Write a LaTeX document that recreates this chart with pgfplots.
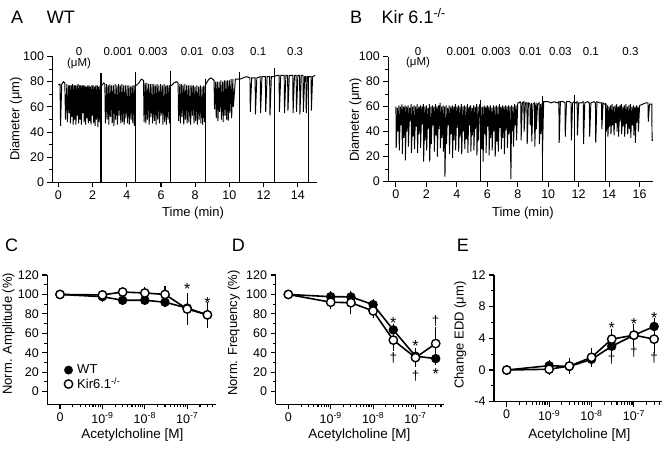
\documentclass[border=0pt]{standalone}
\usepackage{fontspec}
\setmainfont{Liberation Sans}
\usepackage{pgfplots}
\pgfplotsset{compat=1.18}
\pgfplotsset{
  base/.style={
    scale only axis,
    axis x line*=bottom,
    axis y line*=left,
    axis line style={line width=1.4pt,-},
    tick style={black,line width=1.1pt},
    tick align=outside,
    major tick length=5pt,
    minor tick length=3pt,
    tick label style={font=\fontsize{12.5}{14}\selectfont},
    /pgf/number format/assume math mode=true,
    clip=false,
    xlabel style={anchor=center,font=\fontsize{13}{15}\selectfont},
    ylabel style={anchor=center,font=\fontsize{13}{15}\selectfont},
  },
  logx/.style={
    xmin=-10.3,xmax=-6.33,
    xtick={-10,-9,-8,-7},
    xticklabels={0,10\textsuperscript{-9},10\textsuperscript{-8},10\textsuperscript{-7}},
    minor xtick={-9.699,-9.523,-9.398,-9.301,-9.222,-9.155,-9.097,-9.046,-8.699,-8.523,-8.398,-8.301,-8.222,-8.155,-8.097,-8.046,-7.699,-7.523,-7.398,-7.301,-7.222,-7.155,-7.097,-7.046,-6.699,-6.523,-6.398},
    xlabel={Acetylcholine [M]},
    xlabel style={font=\fontsize{13.5}{15}\selectfont},
    width=168.3pt,
  },
  wt/.style={black,line width=1.6pt,mark=*,mark size=4.2pt,mark options={fill=black,line width=1pt,solid},
    error bars/y dir=both,error bars/y explicit,
    error bars/error bar style={line width=1.1pt},
    error bars/error mark options={mark size=3pt,line width=1.1pt}},
  ko/.style={wt,mark options={fill=white,draw=black,line width=1.4pt,solid}},
  trace/.style={black,line width=0.95pt,no marks},
  mline/.style={black,line width=1.2pt,no marks},
}
\tikzset{
  st/.style={font=\fontsize{16}{18}\selectfont,anchor=base,yshift=-9.2pt,inner sep=0pt},
  dg/.style={font=\fontsize{13.5}{15}\selectfont,anchor=base,yshift=-4pt,inner sep=0pt},
  conc/.style={font=\fontsize{11.5}{13}\selectfont,inner sep=0pt},
}
\begin{document}
\begin{tikzpicture}
\path[use as bounding box] (0pt,0pt) rectangle (666pt,449pt);
% titles
\node[anchor=base west,font=\fontsize{18}{20}\selectfont,inner sep=0pt] at (11pt,425.7pt) {A};
\node[anchor=base west,font=\fontsize{18}{20}\selectfont,inner sep=0pt] at (46.7pt,425.7pt) {WT};
\node[anchor=base west,font=\fontsize{18}{20}\selectfont,inner sep=0pt] at (350pt,425.7pt) {B};
\node[anchor=base west,font=\fontsize{18}{20}\selectfont,inner sep=0pt] at (381.3pt,425.7pt) {Kir 6.1\textsuperscript{-/-}};
\node[anchor=base west,font=\fontsize{18}{20}\selectfont,inner sep=0pt] at (5pt,197.5pt) {C};
\node[anchor=base west,font=\fontsize{18}{20}\selectfont,inner sep=0pt] at (231.7pt,197.5pt) {D};
\node[anchor=base west,font=\fontsize{18}{20}\selectfont,inner sep=0pt] at (456.7pt,197.5pt) {E};

% ---------------- Panel A
\begin{axis}[base, at={(52.5pt,266.5pt)}, anchor=south west, width=264.2pt, height=126pt,
  xmin=-0.34, xmax=15.1, ymin=0, ymax=100,
  xtick={0,2,...,14}, ytick={0,20,...,100}, minor y tick num=1,
  xlabel={Time (min)}, ylabel={Diameter (μm)},
  xlabel style={at={(axis description cs:0.532,-0.242)}},
  ylabel style={at={(axis description cs:-0.138,0.504)}}]
\addplot[trace] coordinates {
(0,77.5)(0.1,78)(0.13,45)(0.2,78)(0.3,80)(0.38,79)(0.42,50)(0.5,78)(0.53,48)(0.6,77)(0.63,55)(0.68,77)(0.71,47)(0.76,77)(0.79,52)(0.84,78)(0.87,46)(0.92,77)(0.95,50)(1.0,77)(1.03,46)(1.08,77)(1.11,53)(1.16,78)(1.19,47)(1.24,77)(1.27,50)(1.32,77)(1.35,46)(1.4,77)(1.43,55)(1.48,77)(1.51,48)(1.56,77)(1.59,46)(1.64,76)(1.67,51)(1.72,77)(1.75,47)(1.8,77)(1.83,49)(1.88,76)(1.91,46)(1.96,77)(1.99,53)(2.04,77)(2.07,47)(2.12,76)(2.15,45)(2.2,77)(2.23,50)(2.28,77)(2.31,44)(2.36,76)(2.39,48)(2.44,77)(2.47,55)(2.52,77)
(2.6,78)(2.66,79)(2.72,78)(2.75,47)(2.82,78)(2.85,50)(2.92,77)(2.95,46)(3.02,78)(3.05,52)(3.12,77)(3.15,47)(3.22,77)(3.25,45)(3.32,78)(3.35,50)(3.42,77)(3.45,46)(3.52,78)(3.55,53)(3.62,77)(3.65,47)(3.72,78)(3.75,48)(3.82,77)(3.85,46)(3.92,77)(3.95,51)(4.02,77)(4.05,47)(4.12,77)(4.15,46)(4.22,76)(4.25,50)(4.32,77)(4.35,47)(4.42,77)(4.45,45)(4.5,77)
(4.56,77)(4.7,79)(4.85,82)(4.98,81)(5.01,48)(5.08,79)(5.11,47)(5.18,79)(5.21,50)(5.28,78)(5.31,46)(5.38,78)(5.41,52)(5.48,78)(5.51,47)(5.58,78)(5.61,49)(5.68,77)(5.71,46)(5.78,78)(5.81,50)(5.88,77)(5.91,47)(5.98,78)(6.01,53)(6.08,77)(6.11,46)(6.18,78)(6.21,48)(6.28,77)(6.31,46)(6.38,77)(6.41,50)(6.48,77)(6.51,47)(6.55,77)
(6.62,77)(6.75,79)(6.9,80)(7.0,79)(7.03,49)(7.1,78)(7.13,47)(7.2,78)(7.23,52)(7.3,77)(7.33,46)(7.4,78)(7.43,50)(7.5,77)(7.53,47)(7.6,77)(7.63,48)(7.7,77)(7.73,46)(7.8,77)(7.83,53)(7.9,77)(7.93,47)(8.0,76)(8.03,49)(8.1,77)(8.13,46)(8.2,76)(8.23,50)(8.3,77)(8.33,47)(8.4,76)(8.43,46)(8.5,77)(8.53,48)(8.6,77)
(8.66,79)(8.8,82)(8.95,83)(9.1,81)(9.13,58)(9.2,80)(9.23,51)(9.3,80)(9.33,49)(9.4,80)(9.43,56)(9.5,81)(9.53,50)(9.6,80)(9.63,48)(9.7,81)(9.73,53)(9.8,81)(9.83,50)(9.9,81)(9.93,49)(10.0,81)(10.03,55)(10.1,82)(10.13,51)(10.2,82)(10.23,60)(10.35,82)(10.6,82)
(10.8,83)(11.0,84)(11.2,83)(11.22,56)(11.3,83)(11.5,83)(11.52,54)(11.6,83)(11.8,84)(11.82,55)(11.9,84)(12.1,84)(12.12,56)(12.2,84)(12.35,84)(12.37,53)(12.45,84)(12.6,84)
(12.8,85)(12.9,85)(12.92,56)(13.0,85)(13.2,85)(13.22,55)(13.3,85)(13.4,85)(13.42,57)(13.5,85)(13.7,85)(13.72,55)(13.8,85)(13.9,85)(13.92,56)(14.0,85)(14.1,85)(14.12,54)(14.2,85)(14.3,85)(14.32,56)(14.4,84)(14.47,84)(14.49,55)(14.56,84)
(14.7,84)(14.77,84)(14.79,57)(14.86,84)(15.0,85)};
\addplot[mline] coordinates {(2.5,0)(2.5,87)};
\addplot[mline] coordinates {(4.52,0)(4.52,88)};
\addplot[mline] coordinates {(6.55,0)(6.55,88.5)};
\addplot[mline] coordinates {(8.62,0)(8.62,82)};
\addplot[mline] coordinates {(10.6,0)(10.6,88)};
\addplot[mline] coordinates {(12.63,0)(12.63,90.6)};
\addplot[mline] coordinates {(14.62,0)(14.62,84)};
\node[conc] at (axis cs:1.21,103.6) {0};
\node[conc] at (axis cs:1.21,94.8) {(μM)};
\node[conc] at (axis cs:3.49,103.6) {0.001};
\node[conc] at (axis cs:5.54,103.6) {0.003};
\node[conc] at (axis cs:7.82,103.6) {0.01};
\node[conc] at (axis cs:9.63,103.6) {0.03};
\node[conc] at (axis cs:11.68,103.6) {0.1};
\node[conc] at (axis cs:13.84,103.6) {0.3};
\end{axis}

% ---------------- Panel B
\begin{axis}[base, at={(388.3pt,267.3pt)}, anchor=south west, width=265pt, height=125pt,
  xmin=-0.5, xmax=16.9, ymin=0, ymax=100,
  xtick={0,2,...,16}, ytick={0,20,...,100}, minor y tick num=1,
  xlabel={Time (min)}, ylabel={Diameter (μm)},
  xlabel style={at={(axis description cs:0.508,-0.253)}},
  ylabel style={at={(axis description cs:-0.124,0.494)}}]
\addplot[trace] coordinates {
(0,60)(0.02,27)(0.1,59)(0.12,40)(0.2,61)(0.22,25)(0.3,60)(0.32,45)(0.4,62)(0.42,22)(0.5,60)(0.52,35)(0.6,61)(0.62,17)(0.7,60)(0.72,40)(0.8,61)(0.82,28)(0.9,59)(0.92,48)(1.0,62)(1.02,23)(1.1,60)(1.12,36)(1.2,61)(1.22,26)(1.3,60)(1.32,44)(1.4,62)(1.42,23)(1.5,60)(1.52,38)(1.6,61)(1.62,27)(1.7,60)(1.72,46)(1.8,62)(1.82,16)(1.9,60)(1.92,33)(2.0,61)(2.02,25)(2.1,59)(2.12,42)(2.2,62)(2.22,16)(2.3,60)(2.32,30)(2.4,61)(2.42,45)(2.5,60)(2.52,24)(2.6,62)(2.62,37)(2.7,60)(2.72,20)(2.8,61)(2.82,42)(2.9,63)(2.92,27)(3.0,60)(3.02,35)(3.1,61)(3.12,24)(3.2,60)(3.22,4)(3.3,61)(3.32,30)(3.4,59)(3.42,45)(3.5,61)(3.52,22)(3.6,60)(3.62,38)(3.7,61)(3.72,19)(3.8,60)(3.82,33)(3.9,62)(3.92,25)(4.0,60)(4.02,43)(4.1,61)(4.12,24)(4.2,60)(4.22,36)(4.3,62)(4.32,22)(4.4,60)(4.42,40)(4.5,61)(4.52,26)(4.6,60)(4.62,34)(4.7,62)(4.72,23)(4.8,60)(4.82,45)(4.9,61)(4.92,24)(5.0,59)(5.02,37)(5.1,61)(5.12,25)(5.2,60)(5.22,42)(5.3,62)(5.32,21)(5.4,60)(5.42,33)(5.5,61)
(5.6,59)(5.62,26)(5.7,60)(5.72,16)(5.8,61)(5.82,38)(5.9,60)(5.92,23)(6.0,61)(6.02,44)(6.1,60)(6.12,21)(6.2,61)(6.22,35)(6.3,59)(6.32,25)(6.4,61)(6.42,40)(6.5,60)(6.52,20)(6.6,61)(6.62,32)(6.7,60)(6.72,24)(6.8,62)(6.82,43)(6.9,60)(6.92,26)(7.0,61)(7.02,35)(7.1,60)(7.12,22)(7.2,61)(7.22,41)(7.3,60)(7.32,27)(7.4,61)(7.42,38)(7.5,60)(7.55,2)(7.6,61)(7.62,40)(7.7,60)(7.72,28)(7.8,62)(7.82,45)(7.9,61)(7.92,33)(8.0,63)
(8.1,63)(8.15,64)(8.2,63)(8.22,33)(8.3,63)(8.4,64)(8.42,40)(8.5,63)(8.6,63)(8.62,30)(8.7,63)(8.8,62)(8.82,45)(8.9,63)(8.92,32)(9.0,62)(9.1,63)(9.12,28)(9.2,63)(9.22,42)(9.3,62)(9.4,63)(9.42,30)(9.5,62)(9.52,38)(9.6,63)(9.62,21)(9.7,64)
(9.8,64)(10.0,64)(10.2,63)(10.4,64)(10.6,63)(10.7,64)(10.72,31)(10.8,64)(11.0,64)(11.1,63)(11.12,36)(11.2,64)(11.4,64)(11.5,63)(11.52,33)(11.6,63)(11.7,64)
(11.8,63)(11.9,64)(11.92,37)(12.0,63)(12.2,63)(12.3,64)(12.32,30)(12.4,63)(12.6,64)(12.7,63)(12.72,36)(12.8,63)(13.0,64)(13.1,63)(13.12,31)(13.2,64)(13.4,63)(13.5,63)(13.52,42)(13.6,63)(13.7,62)
(13.8,62)(13.82,40)(13.9,61)(13.92,36)(14.0,60)(14.02,44)(14.1,61)(14.12,38)(14.2,62)(14.22,45)(14.3,60)(14.32,37)(14.4,61)(14.42,47)(14.5,62)(14.52,40)(14.6,60)(14.62,36)(14.7,61)(14.72,48)(14.8,62)(14.82,38)(14.9,60)(14.92,44)(15.0,61)(15.02,36)(15.1,62)(15.12,46)(15.2,60)(15.22,38)(15.3,61)(15.32,42)(15.4,62)(15.42,35)(15.5,60)(15.52,45)(15.6,61)(15.62,37)(15.7,60)(15.72,31)(15.8,61)(15.82,47)(15.9,60)(15.92,40)(16.0,61)
(16.2,62)(16.4,63)(16.55,63)(16.57,48)(16.65,62)(16.8,62)(16.82,33)(16.88,33)};
\addplot[mline] coordinates {(5.53,0)(5.53,65)};
\addplot[mline] coordinates {(9.63,0)(9.63,68.6)};
\addplot[mline] coordinates {(11.73,0)(11.73,69.7)};
\addplot[mline] coordinates {(13.75,0)(13.75,63)};
\node[conc] at (axis cs:1.45,103.8) {0};
\node[conc] at (axis cs:1.45,95) {(μM)};
\node[conc] at (axis cs:4.28,103.8) {0.001};
\node[conc] at (axis cs:6.58,103.8) {0.003};
\node[conc] at (axis cs:8.82,103.8) {0.01};
\node[conc] at (axis cs:10.8,103.8) {0.03};
\node[conc] at (axis cs:12.8,103.8) {0.1};
\node[conc] at (axis cs:15.4,103.8) {0.3};
\end{axis}

% ---------------- Panel C
\begin{axis}[base, logx, at={(47.3pt,44.7pt)}, anchor=south west, height=129.3pt,
  ymin=-13, ymax=120, ytick={0,20,...,120}, minor y tick num=1,
  ylabel={Norm. Amplitude (\%)},
  xlabel style={at={(axis description cs:0.505,-0.237)}},
  ylabel style={at={(axis description cs:-0.23,0.546)}},
  legend style={at={(axis description cs:0.10,0.322)},anchor=north west,draw=none,fill=none,
    font=\fontsize{13}{15}\selectfont,row sep=-1.5pt,inner sep=0pt},
  legend cell align=left]
\addlegendimage{only marks,mark=*,mark size=4.2pt,mark options={fill=black}}
\addlegendentry{\hspace{2.5pt}WT}
\addlegendimage{only marks,mark=*,mark size=4.2pt,mark options={fill=white,draw=black,line width=1.4pt}}
\addlegendentry{\hspace{2.5pt}Kir6.1\textsuperscript{-/-}}
\addplot[wt,forget plot] coordinates {(-10,100) +- (0,0) (-9,97.7) +- (0,2) (-8.523,94) +- (0,2) (-8,94) +- (0,2) (-7.523,92) +- (0,2) (-7,86) +- (0,5) (-6.523,79) +- (0,5)};
\addplot[ko,forget plot] coordinates {(-10,100) +- (0,0) (-9,99.5) +- (0,2) (-8.523,102.5) +- (0,2) (-8,101.5) +- (0,3) (-7.523,100) +- (0,6) (-7,85) +- (0,13) (-6.523,79) +- (0,10)};
\node[st] at (axis cs:-7,109.7) {*};
\node[st] at (axis cs:-6.523,95.3) {*};
\end{axis}

% ---------------- Panel D
\begin{axis}[base, logx, at={(275.6pt,44.7pt)}, anchor=south west, height=129.3pt,
  ymin=-13, ymax=120, ytick={0,20,...,120}, minor y tick num=1,
  ylabel={Norm. Frequency (\%)},
  xlabel style={at={(axis description cs:0.498,-0.237)}},
  ylabel style={at={(axis description cs:-0.249,0.55)}}]
\addplot[wt,forget plot] coordinates {(-10,100) +- (0,0) (-9,97.7) +- (0,3) (-8.523,97.5) +- (0,3) (-8,89.5) +- (0,3) (-7.523,63.5) +- (0,3) (-7,36.5) +- (0,5) (-6.523,34) +- (0,4)};
\addplot[ko,forget plot] coordinates {(-10,100) +- (0,0) (-9,92) +- (0,4) (-8.523,91.5) +- (0,9) (-8,83) +- (0,4) (-7.523,53) +- (0,8) (-7,35) +- (0,7) (-6.523,49.5) +- (0,14)};
\node[st] at (axis cs:-7.523,74.5) {*};
\node[dg] at (axis cs:-7.523,33.6) {†};
\node[st] at (axis cs:-7,50.4) {*};
\node[dg] at (axis cs:-7,16) {†};
\node[dg] at (axis cs:-6.523,72) {†};
\node[st] at (axis cs:-6.523,22) {*};
\end{axis}

% ---------------- Panel E
\begin{axis}[base, logx, at={(494pt,47.3pt)}, anchor=south west, height=126.7pt,
  ymin=-4, ymax=12, ytick={-4,0,4,8,12}, minor y tick num=1,
  ylabel={Change EDD (μm)},
  xlabel style={at={(axis description cs:0.507,-0.263)}},
  ylabel style={at={(axis description cs:-0.2,0.526)}}]
\addplot[wt,forget plot] coordinates {(-10,0) +- (0,0) (-9,0.55) +- (0,0.3) (-8.523,0.45) +- (0,0.5) (-8,1.35) +- (0,0.5) (-7.523,3.0) +- (0,0.6) (-7,4.4) +- (0,0.8) (-6.523,5.5) +- (0,0.7)};
\addplot[ko,forget plot] coordinates {(-10,0) +- (0,0) (-9,0.1) +- (0,0.3) (-8.523,0.5) +- (0,0.6) (-8,1.6) +- (0,0.8) (-7.523,3.9) +- (0,0.9) (-7,4.4) +- (0,1.0) (-6.523,3.9) +- (0,1.4)};
\node[st] at (axis cs:-7.523,5.8) {*};
\node[dg] at (axis cs:-7.523,1.3) {†};
\node[st] at (axis cs:-7,6.3) {*};
\node[dg] at (axis cs:-7,2.2) {†};
\node[st] at (axis cs:-6.523,7.0) {*};
\node[dg] at (axis cs:-6.523,1.4) {†};
\end{axis}
\end{tikzpicture}
\end{document}
